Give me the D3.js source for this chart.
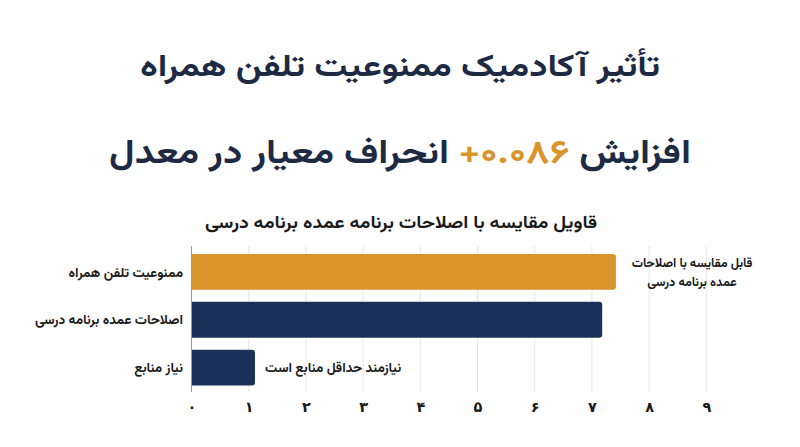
<!DOCTYPE html>
<html lang="fa">
<head>
<meta charset="utf-8">
<script src="https://cdn.jsdelivr.net/npm/d3@7"></script>
<style>
  html, body { margin: 0; padding: 0; background: #ffffff; }
  svg { display: block; font-family: "Vazirmatn", "DejaVu Sans", sans-serif; }
</style>
</head>
<body>
<div id="chart"></div>
<script>
// chart data
const categories = ["ممنوعیت تلفن همراه", "اصلاحات عمده برنامه درسی", "نیاز منابع"];
const values = [7.42, 7.18, 1.11];
const highlighted = ["ممنوعیت تلفن همراه"];
const tickValues = [0, 1, 2, 3, 4, 5, 6, 7, 8, 9];
const tickLabels = ["۰", "۱", "۲", "۳", "۴", "۵", "۶", "۷", "۸", "۹"];
const annotations = [
  ["قابل مقایسه با اصلاحات", "عمده برنامه درسی"],
  [],
  ["نیازمند حداقل منابع است"]
];
const titleText = "تأثیر آکادمیک ممنوعیت تلفن همراه";
const subtitleParts = ["افزایش ", "۰.۰۸۶+", " انحراف معیار در معدل"];
const chartTitle = "قاویل مقایسه با اصلاحات برنامه عمده برنامه درسی";

const width = 800, height = 447;
const navy = "#1c3159", orange = "#d9952b", ink = "#1e2a44";

const svg = d3.select("#chart")
  .append("svg")
  .attr("width", width)
  .attr("height", height);

// headline
svg.append("text")
  .attr("x", width / 2)
  .attr("y", 76)
  .attr("text-anchor", "middle")
  .attr("direction", "rtl")
  .attr("textLength", 520)
  .attr("lengthAdjust", "spacingAndGlyphs")
  .style("font-size", "31px")
  .style("font-weight", "bold")
  .style("fill", ink)
  .text(titleText);

const sub = svg.append("text")
  .attr("x", width / 2)
  .attr("y", 163)
  .attr("text-anchor", "middle")
  .attr("direction", "rtl")
  .attr("textLength", 582)
  .attr("lengthAdjust", "spacingAndGlyphs")
  .style("font-size", "33px")
  .style("font-weight", "bold")
  .style("fill", ink);
sub.selectAll("tspan")
  .data(subtitleParts)
  .enter()
  .append("tspan")
  .style("fill", (d, i) => i === 1 ? orange : ink)
  .text(d => d);

svg.append("text")
  .attr("x", 401)
  .attr("y", 228)
  .attr("text-anchor", "middle")
  .attr("direction", "rtl")
  .attr("textLength", 392)
  .attr("lengthAdjust", "spacingAndGlyphs")
  .style("font-size", "17px")
  .style("font-weight", "bold")
  .style("fill", "#1a1a1a")
  .text(chartTitle);

/* -----------------------------
   bars
-------------------------------- */
const x = d3.scaleLinear()
  .domain([0, 10])
  .range([191.5, 763.5]);

const y = d3.scaleBand()
  .domain(categories)
  .range([248, 391.5])
  .paddingInner(0.25)
  .paddingOuter(0.125);

const g = svg.append("g");

// gridlines
g.selectAll(".grid")
  .data(tickValues.filter(d => d > 0))
  .enter()
  .append("line")
  .attr("class", "grid")
  .attr("x1", d => x(d))
  .attr("x2", d => x(d))
  .attr("y1", 246)
  .attr("y2", 392)
  .attr("stroke", "#e6e6e6")
  .attr("stroke-width", 1);

const r = 3;
g.selectAll(".bar")
  .data(categories)
  .enter()
  .append("path")
  .attr("class", "bar")
  .attr("fill", d => highlighted.includes(d) ? orange : navy)
  .attr("d", (d, i) => {
    const x0 = x(0), x1 = x(values[i]);
    const y0 = y(d), y1 = y(d) + y.bandwidth();
    return `M${x0},${y0}H${x1 - r}Q${x1},${y0} ${x1},${y0 + r}` +
      `V${y1 - r}Q${x1},${y1} ${x1 - r},${y1}H${x0}Z`;
  });

// value axis line
g.append("line")
  .attr("x1", x(0))
  .attr("x2", x(0))
  .attr("y1", 246)
  .attr("y2", 392)
  .attr("stroke", "#9a9a9a")
  .attr("stroke-width", 1);

// category labels
g.selectAll(".cat")
  .data(categories)
  .enter()
  .append("text")
  .attr("class", "cat")
  .attr("x", 183)
  .attr("y", d => y(d) + y.bandwidth() / 2)
  .attr("dy", "0.35em")
  .attr("text-anchor", "start")
  .attr("direction", "rtl")
  .style("font-size", "13.5px")
  .style("font-weight", "bold")
  .style("fill", "#1a1a1a")
  .text(d => d);

// annotations next to bars, one text per line
categories.forEach((c, i) => {
  const lines = annotations[i];
  if (!lines.length) return;
  const multi = lines.length > 1;
  const cy = y(c) + y.bandwidth() / 2;
  g.selectAll(`.note${i}`)
    .data(lines)
    .enter()
    .append("text")
    .attr("class", `note${i}`)
    .attr("x", multi ? 692 : x(values[i]) + 10)
    .attr("y", (d, j) => cy + (j - (lines.length - 1) / 2) * 19)
    .attr("dy", "0.35em")
    .attr("text-anchor", multi ? "middle" : "end")
    .attr("direction", "rtl")
    .style("font-size", multi ? "12.5px" : "13.5px")
    .style("font-weight", "bold")
    .style("fill", "#1a1a1a")
    .text(d => d);
});

// x axis ticks
const axis = d3.axisBottom(x)
  .tickValues(tickValues)
  .tickSize(0)
  .tickPadding(0)
  .tickFormat((d, i) => tickLabels[i]);

svg.append("g")
  .attr("transform", "translate(0,402)")
  .call(axis)
  .call(a => a.select(".domain").remove())
  .call(a => a.selectAll("text")
    .style("font-family", "\"DejaVu Sans\", sans-serif")
    .style("font-size", "14.5px")
    .style("font-weight", "bold")
    .style("fill", "#1a1a1a"));
</script>
</body>
</html>
